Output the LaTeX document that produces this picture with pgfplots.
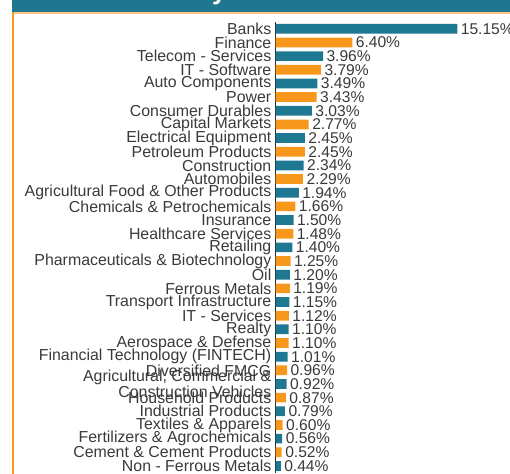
\documentclass[border=0pt]{standalone}
\usepackage{pgfplots}
\pgfplotsset{compat=1.18}
\usepackage{fontspec}
\setmainfont{Liberation Sans}
\definecolor{teal1}{HTML}{1F7891}
\definecolor{orng}{HTML}{F7981D}
\definecolor{hdr}{HTML}{21768F}
\definecolor{txt}{HTML}{3A3A3A}
\begin{document}
\begin{tikzpicture}
\begin{axis}[
 name=ax,
 scale only axis, width=192pt, height=450.8pt,
 xmin=0, xmax=16, ymin=-0.5, ymax=32.5, y dir=reverse,
 hide x axis, axis y line*=left, axis line style={-, color=black!85, line width=0.9pt},
 ytick={0,...,32},
 yticklabels={Banks,Finance,Telecom - Services,IT - Software,Auto Components,Power,Consumer Durables,Capital Markets,Electrical Equipment,Petroleum Products,Construction,Automobiles,Agricultural Food \& Other Products,Chemicals \& Petrochemicals,Insurance,Healthcare Services,Retailing,Pharmaceuticals \& Biotechnology,Oil,Ferrous Metals,Transport Infrastructure,IT - Services,Realty,Aerospace \& Defense,Financial Technology (FINTECH),Diversified FMCG,{Agricultural, Commercial \&\\Construction Vehicles},Household Products,Industrial Products,Textiles \& Apparels,Fertilizers \& Agrochemicals,Cement \& Cement Products,Non - Ferrous Metals},
 major tick length=0pt,
 yticklabel style={font=\fontsize{15.9}{13}\selectfont, text=txt, align=right, inner sep=0pt, xshift=-4pt},
 xbar, bar width=9.7pt, bar shift=0pt,
 point meta=x,
 nodes near coords={\pgfmathprintnumber[fixed,fixed zerofill,precision=2]{\pgfplotspointmeta}\%},
 nodes near coords style={font=\fontsize{15.6}{15.6}\selectfont, text=txt},
 /pgf/number format/assume math mode=true,
 clip=false,
]
\addplot[fill=teal1, draw=none] coordinates {(15.15,0) (3.96,2) (3.49,4) (3.03,6) (2.45,8) (2.34,10) (1.94,12) (1.50,14) (1.40,16) (1.20,18) (1.15,20) (1.10,22) (1.01,24) (0.92,26) (0.79,28) (0.56,30) (0.44,32)};
\addplot[fill=orng, draw=none] coordinates {(6.40,1) (3.79,3) (3.43,5) (2.77,7) (2.45,9) (2.29,11) (1.66,13) (1.48,15) (1.25,17) (1.19,19) (1.12,21) (1.10,23) (0.96,25) (0.87,27) (0.60,29) (0.52,31)};
\fill[hdr] (axis cs:-21.933,-2.2) rectangle (axis cs:19.8,-1.193);
\fill[orng!55!white] (axis cs:-21.933,-1.193) rectangle (axis cs:19.8,-1.069);
\fill[orng] (axis cs:-21.958,-1.193) rectangle (axis cs:-21.825,32.7);
\begin{scope}
\clip (axis cs:-21.933,-2.108) rectangle (axis cs:19.8,-1.193);
\node[white, font=\fontsize{26}{26}\selectfont\bfseries, anchor=base west, inner sep=0pt] at (axis cs:-5.29,-2.145) {y};
\end{scope}
\coordinate (tl) at (axis cs:-22.958,-2.108);
\coordinate (br) at (axis cs:19.541,32.518);
\end{axis}
\pgfresetboundingbox
\path[use as bounding box] (tl) rectangle (br);
\end{tikzpicture}
\end{document}
